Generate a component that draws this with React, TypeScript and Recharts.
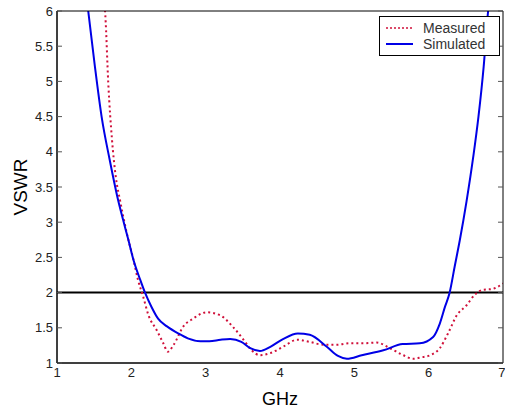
import React from 'react';
import { LineChart, Line, XAxis, YAxis, ReferenceLine } from 'recharts';

const xTicks = [1, 2, 3, 4, 5, 6, 7];
const yTicks = [1, 1.5, 2, 2.5, 3, 3.5, 4, 4.5, 5, 5.5, 6];

const measuredFreq = [1.635, 1.65, 1.69, 1.74, 1.79, 1.85, 1.94, 2.03, 2.09, 2.16, 2.23, 2.34, 2.43, 2.49, 2.57, 2.7, 2.83, 3.01, 3.19, 3.37, 3.51, 3.62, 3.73, 3.87, 4.04, 4.23, 4.4, 4.58, 4.77, 4.94, 5.12, 5.3, 5.48, 5.66, 5.79, 5.9, 6.02, 6.15, 6.26, 6.38, 6.51, 6.62, 6.73, 6.85, 7.0];
const measuredVswr = [6.15, 5.94, 4.97, 4.17, 3.65, 3.3, 2.84, 2.46, 2.18, 1.94, 1.68, 1.47, 1.28, 1.16, 1.26, 1.52, 1.63, 1.72, 1.68, 1.51, 1.33, 1.18, 1.11, 1.14, 1.23, 1.33, 1.3, 1.26, 1.26, 1.28, 1.28, 1.29, 1.21, 1.11, 1.06, 1.08, 1.11, 1.21, 1.42, 1.68, 1.82, 1.97, 2.04, 2.05, 2.13];

const simulatedFreq = [1.4, 1.42, 1.51, 1.6, 1.71, 1.825, 1.89, 1.96, 2.03, 2.12, 2.18, 2.27, 2.36, 2.48, 2.63, 2.76, 2.93, 3.05, 3.2, 3.33, 3.48, 3.6, 3.73, 3.87, 4.04, 4.24, 4.4, 4.63, 4.78, 4.9, 5.1, 5.39, 5.65, 5.88, 6.06, 6.15, 6.22, 6.28, 6.35, 6.42, 6.51, 6.6, 6.67, 6.74, 6.8, 6.83];
const simulatedVswr = [6.17, 6.0, 5.21, 4.5, 3.88, 3.3, 3.03, 2.75, 2.46, 2.18, 2.01, 1.8, 1.63, 1.52, 1.42, 1.35, 1.31, 1.31, 1.33, 1.34, 1.3, 1.21, 1.17, 1.23, 1.34, 1.42, 1.4, 1.23, 1.1, 1.06, 1.11, 1.18, 1.27, 1.28, 1.37, 1.56, 1.8, 1.99, 2.37, 2.75, 3.3, 3.93, 4.5, 5.21, 6.0, 6.25];

const thresholdVswr = 2;
const seriesNames = ['Measured', 'Simulated'];
const seriesColors = ['#d0103a', '#0000e6'];

const measured = measuredFreq.map((f, i) => ({ f, v: measuredVswr[i] }));
const simulated = simulatedFreq.map((f, i) => ({ f, v: simulatedVswr[i] }));

const FONT = '"Liberation Sans", Arial, sans-serif';
const tickStyle = { fill: '#222', fontSize: 13, fontFamily: FONT };
const blank = () => '';

export default function App() {
  return (
    <div style={{ position: 'absolute', left: 0, top: 0, width: 505, height: 408, background: '#fff' }}>
      <LineChart width={505} height={408} margin={{ top: 11, right: 2, bottom: 0, left: 0 }}>
        <XAxis
          xAxisId="b"
          dataKey="f"
          type="number"
          domain={[1, 7]}
          ticks={xTicks}
          allowDataOverflow
          height={45}
          tickLine={false}
          tickSize={0}
          tickMargin={5}
          stroke="#000"
          tick={tickStyle}
          label={{ value: 'GHz', position: 'insideBottom', offset: 3, style: { fontSize: 18, fontFamily: FONT, fill: '#000' } }}
        />
        <XAxis
          xAxisId="bm"
          orientation="bottom"
          mirror
          type="number"
          domain={[1, 7]}
          ticks={xTicks}
          allowDataOverflow
          tickSize={5}
          tickFormatter={blank}
          stroke="#000"
          tickLine={{ stroke: '#555' }}
        />
        <XAxis
          xAxisId="t"
          orientation="top"
          mirror
          type="number"
          domain={[1, 7]}
          ticks={xTicks}
          allowDataOverflow
          tickSize={5}
          tickFormatter={blank}
          stroke="#000"
          tickLine={{ stroke: '#555' }}
        />
        <YAxis
          yAxisId="l"
          type="number"
          domain={[1, 6]}
          ticks={yTicks}
          allowDataOverflow
          width={57}
          tickLine={false}
          tickSize={0}
          tickMargin={4}
          stroke="#000"
          tick={tickStyle}
          label={{ value: 'VSWR', angle: -90, position: 'insideLeft', offset: 20, style: { fontSize: 19, fontFamily: FONT, fill: '#000', textAnchor: 'middle' } }}
        />
        <YAxis
          yAxisId="lm"
          orientation="left"
          mirror
          type="number"
          domain={[1, 6]}
          ticks={yTicks}
          allowDataOverflow
          tickSize={5}
          tickFormatter={blank}
          stroke="#000"
          tickLine={{ stroke: '#555' }}
        />
        <YAxis
          yAxisId="r"
          orientation="right"
          mirror
          type="number"
          domain={[1, 6]}
          ticks={yTicks}
          allowDataOverflow
          tickSize={5}
          tickFormatter={blank}
          stroke="#000"
          tickLine={{ stroke: '#555' }}
        />
        <ReferenceLine xAxisId="b" yAxisId="l" y={thresholdVswr} stroke="#000" strokeWidth={2} />
        <Line
          xAxisId="b"
          yAxisId="l"
          data={measured}
          dataKey="v"
          name={seriesNames[0]}
          type="monotone"
          stroke={seriesColors[0]}
          strokeWidth={2}
          strokeDasharray="2 3"
          dot={false}
          isAnimationActive={false}
        />
        <Line
          xAxisId="b"
          yAxisId="l"
          data={simulated}
          dataKey="v"
          name={seriesNames[1]}
          type="monotone"
          stroke={seriesColors[1]}
          strokeWidth={2}
          dot={false}
          isAnimationActive={false}
        />
      </LineChart>
      <div
        style={{
          position: 'absolute',
          left: 379,
          top: 16,
          width: 121,
          height: 40,
          boxSizing: 'border-box',
          border: '1px solid #000',
          background: '#fff',
          fontFamily: FONT,
          fontSize: 14,
          color: '#333',
        }}
      >
        {seriesNames.map((name, i) => (
          <div key={name} style={{ position: 'absolute', left: 5, top: 3 + i * 16, height: 16, display: 'flex', alignItems: 'center' }}>
            <svg width={28} height={16} style={{ display: 'block' }}>
              <line
                x1={1}
                x2={28}
                y1={8}
                y2={8}
                stroke={seriesColors[i]}
                strokeWidth={i === 0 ? 1.5 : 2}
                strokeDasharray={i === 0 ? '2 2' : undefined}
              />
            </svg>
            <span style={{ marginLeft: 10, lineHeight: '16px' }}>{name}</span>
          </div>
        ))}
      </div>
    </div>
  );
}
